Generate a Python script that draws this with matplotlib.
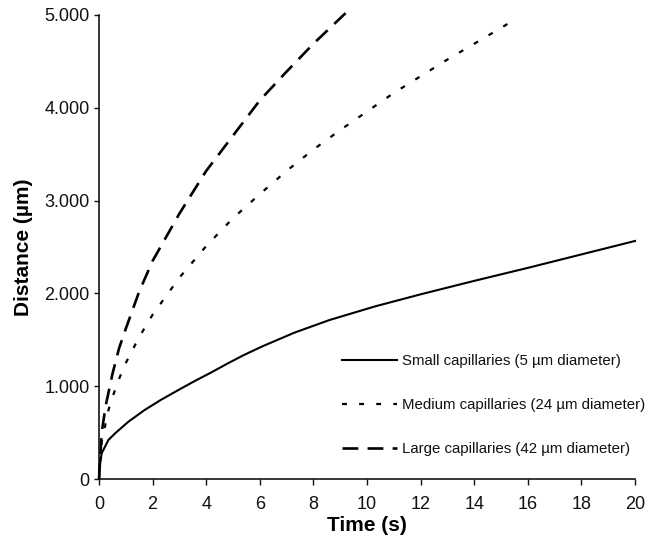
import matplotlib
matplotlib.use("Agg")
import numpy as np
from matplotlib import pyplot as plt

plt.rcParams["font.family"] = ["Liberation Sans", "DejaVu Sans"]

# ----------------------------------------------------
# Data
# ----------------------------------------------------

small_t = [0, 0.03, 0.1, 0.35, 0.6, 1.1, 1.7, 2.3, 3.0, 3.6, 4.2, 4.8, 5.4, 6.1, 7.3, 8.6, 10.3,
           12, 14, 16, 18, 20]
small_d = [0, 150, 277, 420, 492, 618, 743, 851, 965, 1060, 1150, 1245, 1335, 1430, 1578, 1713, 1860,
           1990, 2135, 2275, 2420, 2565]

medium_t = [0, 0.1, 0.35, 0.5, 0.75, 1, 1.5, 2, 3, 4, 5, 6, 7, 8, 9, 10, 11, 12, 13, 14, 15.4]
medium_d = [0, 400, 740, 880, 1080, 1250, 1530, 1770, 2170, 2510, 2810, 3070, 3320, 3550,
            3760, 3960, 4160, 4340, 4520, 4690, 4930]

large_t = [0, 0.1, 0.25, 0.5, 0.75, 1, 1.5, 2, 3, 4, 5, 6, 7, 8, 9.2]
large_d = [0, 500, 790, 1130, 1410, 1620, 2020, 2350, 2860, 3320, 3700, 4080, 4390, 4690, 5020]

labels = [
    "Small capillaries (5 \u00b5m diameter)",
    "Medium capillaries (24 \u00b5m diameter)",
    "Large capillaries (42 \u00b5m diameter)",
]

x_ticks = list(range(0, 21, 2))
y_ticks = [0, 1000, 2000, 3000, 4000, 5000]
y_tick_labels = ["0", "1.000", "2.000", "3.000", "4.000", "5.000"]

# ----------------------------------------------------
# Plot
# ----------------------------------------------------

fig = plt.figure(figsize=(6.55, 5.39), dpi=100)
ax = fig.add_axes([99 / 655, 1 - 479 / 539, 536 / 655, 464 / 539])

ax.plot(small_t, small_d, color="black", lw=1.5, label=labels[0], clip_on=False)
ax.plot(medium_t, medium_d, color="black", lw=1.6, linestyle=(0, (2.2, 5.5)),
        label=labels[1], clip_on=False)
ax.plot(large_t, large_d, color="black", lw=1.9, linestyle=(0, (6, 3.5)),
        label=labels[2], clip_on=False)

ax.set_xlim(0, 20)
ax.set_ylim(0, 5000)
ax.set_xticks(x_ticks)
ax.set_yticks(y_ticks)
ax.set_yticklabels(y_tick_labels)

for side in ["top", "right"]:
    ax.spines[side].set_visible(False)
for side in ["left", "bottom"]:
    ax.spines[side].set_linewidth(1.1)

ax.tick_params(direction="out", width=1.0, labelsize=13, colors="#111111")
ax.tick_params(axis="x", length=4.3, pad=8)
ax.tick_params(axis="y", length=3.6, pad=3)

ax.set_xlabel("Time (s)", fontsize=15, fontweight="bold", labelpad=2)
ax.set_ylabel("Distance (\u00b5m)", fontsize=15, fontweight="bold", labelpad=8)

leg = ax.legend(loc="center left", bbox_to_anchor=(0.453, 0.159), frameon=False,
                fontsize=10.8, handlelength=3.7, handletextpad=0.33, labelspacing=2.0,
                borderpad=0, borderaxespad=0)
for txt in leg.get_texts():
    txt.set_color("#111111")

fig.savefig("out.png", dpi=100)
